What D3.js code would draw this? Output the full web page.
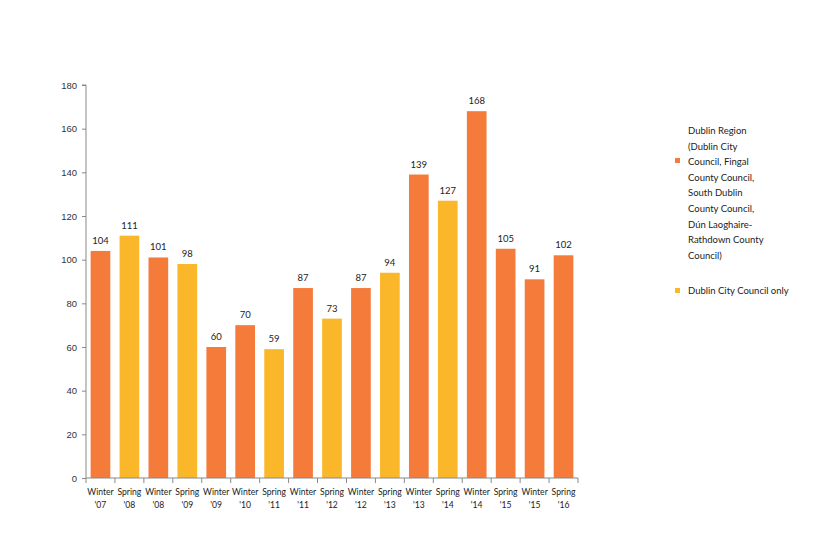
<!DOCTYPE html>
<html><head><meta charset="utf-8">
<script src="https://cdn.jsdelivr.net/npm/d3@7"></script>
<style>body{margin:0;background:#fff}svg{display:block;font-family:Lato,"Open Sans",sans-serif}</style>
</head><body><svg id="c" width="831" height="542"></svg>
<script>
const seasons = ["Winter","Spring","Winter","Spring","Winter","Winter","Spring","Winter","Spring","Winter","Spring","Winter","Spring","Winter","Spring","Winter","Spring"];
const years = ["'07","'08","'08","'09","'09","'10","'11","'11","'12","'12","'13","'13","'14","'14","'15","'15","'16"];
const values = [104,111,101,98,60,70,59,87,73,87,94,139,127,168,105,91,102];
const series = ["R","C","R","C","R","R","C","R","C","R","C","R","C","R","R","R","R"];
const yTicks = [0,20,40,60,80,100,120,140,160,180];
const legendRegion = ["Dublin Region","(Dublin City","Council, Fingal","County Council,","South Dublin","County Council,","Dún Laoghaire-","Rathdown County","Council)"];
const legendCity = ["Dublin City Council only"];
const colors = {R:"#F47B3A", C:"#FBB72A"};

const svg = d3.select("#c");
const mLeft = 86, mRight = 578, mTop = 85, mBottom = 478;
const idx = values.map((d,i)=>i);
const x = d3.scaleBand().domain(idx).range([mLeft,mRight]).paddingInner(0.32).paddingOuter(0.16);
const y = d3.scaleLinear().domain([0,180]).range([mBottom,mTop]);

// y axis
const ya = svg.append("g").attr("transform",`translate(${mLeft},0)`)
  .call(d3.axisLeft(y).tickValues(yTicks).tickSize(4).tickPadding(5));
ya.select(".domain").attr("stroke","#888").attr("d",`M-4,${mTop}H0V${mBottom}`);
ya.selectAll(".tick line").attr("stroke","#888");
ya.selectAll(".tick text").attr("fill","#333").style("font-size","9.5px");

// bars
svg.append("g").selectAll("rect").data(idx).join("rect")
  .attr("x",i=>x(i)).attr("width",x.bandwidth())
  .attr("y",i=>y(values[i])).attr("height",i=>mBottom-y(values[i]))
  .attr("fill",i=>colors[series[i]]);

// value labels
svg.append("g").selectAll("text").data(idx).join("text")
  .attr("x",i=>x(i)+x.bandwidth()/2).attr("y",i=>y(values[i])-7)
  .attr("text-anchor","middle").attr("fill","#222").style("font-size","9.5px")
  .text(i=>values[i]);

// x axis
const bx = d3.scaleLinear().domain([0,values.length]).range([mLeft,mRight]);
const xa = svg.append("g");
xa.append("line").attr("x1",mLeft).attr("x2",mRight).attr("y1",mBottom).attr("y2",mBottom).attr("stroke","#888");
xa.selectAll("line.t").data(d3.range(values.length+1)).join("line").attr("class","t")
  .attr("x1",i=>bx(i)).attr("x2",i=>bx(i)).attr("y1",mBottom).attr("y2",mBottom+5).attr("stroke","#888");
const lab = xa.selectAll("text").data(idx).join("text")
  .attr("text-anchor","middle").attr("fill","#222").style("font-size","8.6px");
lab.append("tspan").attr("x",i=>x(i)+x.bandwidth()/2).attr("y",mBottom+17).text(i=>seasons[i]);
lab.append("tspan").attr("x",i=>x(i)+x.bandwidth()/2).attr("y",mBottom+30).text(i=>years[i]);

// legend
const lg = svg.append("g");
lg.append("rect").attr("x",675).attr("y",158).attr("width",5).attr("height",5).attr("fill",colors.R);
lg.append("text").attr("fill","#222").style("font-size","9.5px")
  .selectAll("tspan").data(legendRegion).join("tspan")
  .attr("x",688).attr("y",(d,i)=>134+i*15.6).text(d=>d);
lg.append("rect").attr("x",675).attr("y",288).attr("width",5).attr("height",5).attr("fill",colors.C);
lg.append("text").attr("fill","#222").style("font-size","9.5px")
  .attr("x",688).attr("y",294).text(legendCity[0]);
</script></body></html>
